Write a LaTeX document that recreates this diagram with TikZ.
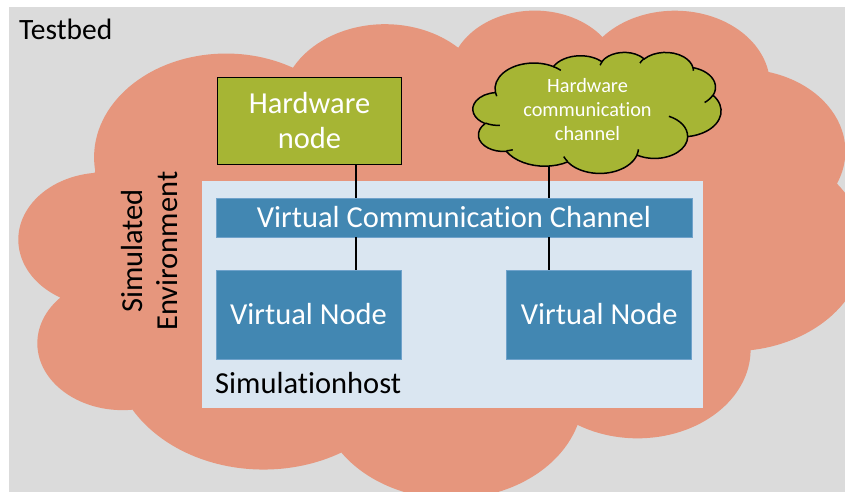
\documentclass[tikz,border=0pt]{standalone}
\usepackage{fontspec}
\setmainfont{Carlito}[Ligatures=NoCommon]
\definecolor{bggray}{HTML}{DBDBDB}
\definecolor{salmon}{HTML}{E6967D}
\definecolor{hostblue}{HTML}{DAE6F1}
\definecolor{vblue}{HTML}{4287B2}
\definecolor{vedge}{HTML}{6FA2CB}
\definecolor{hwgreen}{HTML}{A6B534}

% One lobe of the cloud outline: x radius, y radius, start angle, sweep.
% Angles are measured along the ray from the centre and turned into the
% parametric angles that TikZ's elliptical arcs expect.
\newcommand\cloudarc[4]{arc[start angle={atan2(#1*sin(#3),#2*cos(#3))},
  delta angle={mod(atan2(#1*sin(#3+#4),#2*cos(#3+#4))-atan2(#1*sin(#3),#2*cos(#3))+720,360)},
  x radius=#1, y radius=#2]}

% Cloud outline in a 432 x 432 frame (y pointing down)
\newcommand\cloudoutline{(39.00,143.70)
  \cloudarc{67.53}{91.90}{-190.4875}{123.7805}
  \cloudarc{53.33}{72.67}{-144.1024}{89.9452}
  \cloudarc{43.65}{59.45}{-145.8079}{99.7230}
  \cloudarc{48.57}{65.95}{-130.9861}{117.2417}
  \cloudarc{53.33}{72.73}{-78.7089}{109.0269}
  \cloudarc{67.75}{92.20}{-46.2673}{130.2690}
  \cloudarc{57.85}{78.67}{0.6250}{114.0333}
  \cloudarc{67.52}{92.15}{22.4516}{115.1726}
  \cloudarc{77.20}{105.43}{66.2426}{75.7110}
  \cloudarc{43.60}{59.18}{-274.9421}{146.7356}
  \cloudarc{43.45}{59.45}{-246.8285}{152.5189}
  -- cycle}

% Short inner strokes between the lobes
\newcommand\cloudinner{
  (46.93,261.77) \cloudarc{43.45}{59.45}{86.742}{26.4295}
  (69.28,348.99) \cloudarc{43.60}{59.18}{73.6105}{11.4475}
  (164.78,390.90) \cloudarc{67.52}{92.15}{137.6242}{14.0811}
  (288.27,347.51) \cloudarc{67.52}{92.15}{6.4533}{15.9984}
  (341.29,229.54) \cloudarc{57.85}{78.67}{-70.2924}{70.9174}
  (417.98,153.54) \cloudarc{53.33}{72.73}{30.3180}{27.7515}
  (383.24,54.26) \cloudarc{48.57}{65.95}{-13.7443}{14.8589}
  (290.78,39.52) \cloudarc{48.57}{65.95}{-149.1815}{18.1954}
  (221.41,47.20) \cloudarc{43.65}{59.45}{-163.4943}{17.6864}
  (140.00,51.92) \cloudarc{67.53}{91.90}{-66.7070}{12.3194}
  (41.27,157.89) \cloudarc{67.53}{91.90}{157.6544}{11.8582}}

\tikzset{
  bigtext/.style={font=\fontsize{30.5}{35}\selectfont},
  label/.style={inner sep=0pt, bigtext},
  vbox/.style={fill=vblue, draw=vedge, line width=0.8pt, text=white,
    inner sep=0pt, bigtext},
  link/.style={draw=black, line width=2.2pt},
}

\begin{document}
\begin{tikzpicture}[x=1pt, y=-1pt]
\useasboundingbox (0,0) rectangle (845,492);
\fill[white] (0,0) rectangle (845,492);
\fill[bggray] (9,7) rectangle (845,492);

% testbed cloud
\begin{scope}
  \clip (9,7) rectangle (845,492);
  \begin{scope}[shift={(19,9)}, xscale=845/432, yscale=488/432]
    \fill[salmon] \cloudoutline;
  \end{scope}
\end{scope}

\node[anchor=base west, inner sep=0pt, font=\fontsize{29.5}{35}\selectfont]
  (testbed) at (19,40) {Testbed};

\node[rotate=90, align=center, label] (simenv) at (150,251) {Simulated\\Environment};

% simulation host
\node[fill=hostblue, minimum width=501pt, minimum height=227pt, inner sep=0pt]
  (host) at (452.5,294.5) {};
\node[anchor=base west, label] (hostlabel) at (215,393) {Simulationhost};

\node[vbox, minimum width=476pt, minimum height=39pt] (vcc) at (454,217.5)
  {Virtual Communication Channel};
\node[vbox, minimum width=185pt, minimum height=89pt] (vn1) at (308.5,314.5)
  {Virtual Node};
\node[vbox, minimum width=185pt, minimum height=89pt] (vn2) at (599.2,314.5)
  {Virtual Node};

% connectors
\coordinate (lx) at (356,0);
\coordinate (rx) at (549,0);
\coordinate (hccfoot) at (549,150);
\draw[link] (vcc.south -| lx) -- (vn1.north -| lx);
\draw[link] (vcc.south -| rx) -- (vn2.north -| rx);
\draw[link] (hccfoot) -- (vcc.north -| rx);
\draw[link] (vcc.north -| lx) -- (160,165 -| lx);

% hardware node
\node[draw=black, line width=1.3pt, fill=hwgreen, text=white, align=center,
  minimum width=184pt, minimum height=87pt, inner sep=0pt, bigtext]
  (hw) at (309.5,121) {Hardware\\node};

% hardware communication channel
\begin{scope}[shift={(473,52)}, xscale=248/432, yscale=121/432]
  \filldraw[fill=hwgreen, draw=black, line width=1.5pt] \cloudoutline;
  \draw[black, line width=1.5pt] \cloudinner;
\end{scope}
\node[align=center, text=white, inner sep=0pt, font=\fontsize{20.3}{24}\selectfont]
  (hcc) at (587.5,109.5) {Hardware\\communication\\channel};
\end{tikzpicture}
\end{document}
